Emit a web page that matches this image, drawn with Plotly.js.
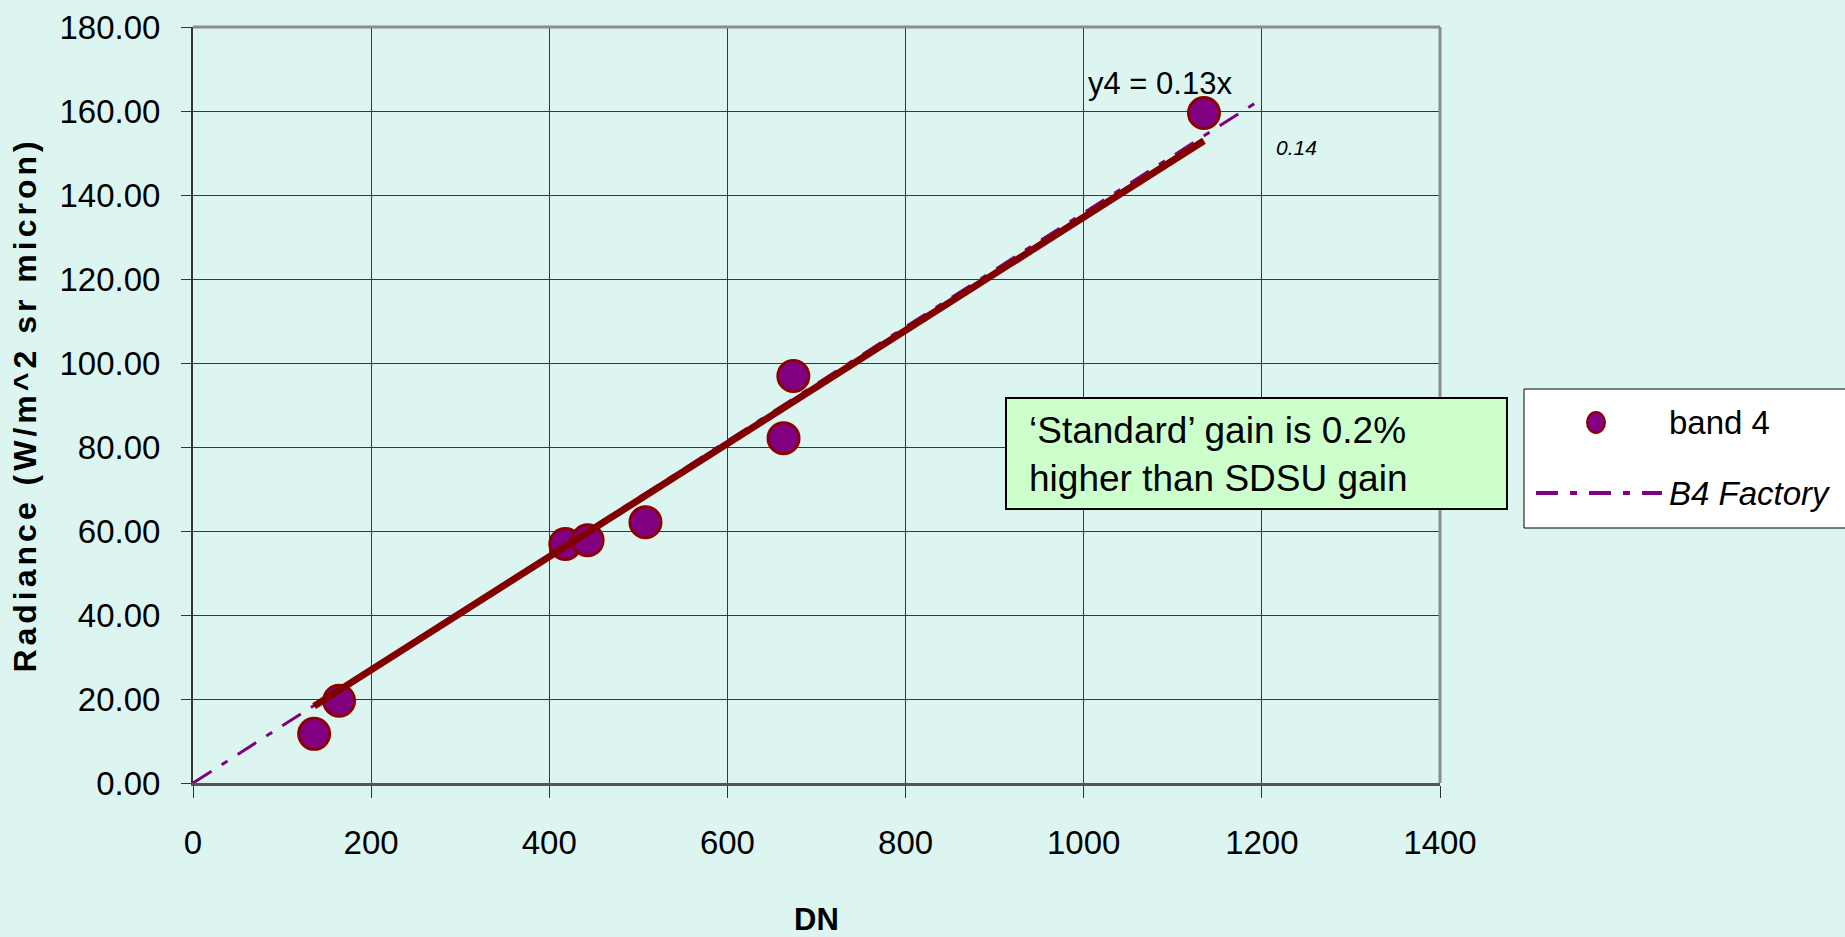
<!DOCTYPE html>
<html>
<head>
<meta charset="utf-8">
<script src="https://cdn.plot.ly/plotly-3.0.1.min.js"></script>
<style>
  html, body { margin: 0; padding: 0; background: #DDF5F0; }
  #chart { width: 1845px; height: 937px; }
  .g-ytitle text { letter-spacing: 4px; }
</style>
</head>
<body>
<div id="chart"></div>
<script>
// ---- data ----
const bandName = 'band 4';
const dnValues = [136, 164, 418, 443, 508, 663, 674, 1135];
const radianceValues = [11.7, 19.6, 56.9, 57.8, 62.1, 82.1, 96.9, 159.5];

const trendDN = [136, 1135];
const trendRadiance = [18.3, 152.9];

const factoryName = 'B4 Factory';
const factoryDN = [0, 1200];
const factoryRadiance = [0, 162.9];

const xTicks = [0, 200, 400, 600, 800, 1000, 1200, 1400];
const yTicks = [0, 20, 40, 60, 80, 100, 120, 140, 160, 180];

const equationText = 'y4 = 0.13x';
const factoryLabel = '0.14';
const noteLines = ['\u2018Standard\u2019 gain is 0.2%', 'higher than SDSU gain'];

// ---- styling ----
const BG = '#DDF5F0';
const FONT = 'Liberation Sans, Arial, sans-serif';
const PURPLE = '#800080';
const DARKRED = '#8B0000';
const DASH = '22px,12px,7px,12px';

// plot area in pixels (for placing the legend / note box in paper coordinates)
const PL = 193, PR = 1440, PT = 27, PB = 783;
const px = v => (v - PL) / (PR - PL);
const py = v => (PB - v) / (PB - PT);

const traces = [
  {
    x: factoryDN, y: factoryRadiance, type: 'scatter', mode: 'lines',
    name: factoryName, showlegend: false,
    line: { color: PURPLE, width: 3, dash: DASH },
    hoverinfo: 'skip'
  },
  {
    x: dnValues, y: radianceValues, type: 'scatter', mode: 'markers',
    name: bandName, showlegend: false,
    marker: { color: PURPLE, size: 31, line: { color: DARKRED, width: 3 } }
  },
  {
    x: trendDN, y: trendRadiance, type: 'scatter', mode: 'lines',
    showlegend: false,
    line: { color: '#800000', width: 7 },
    hoverinfo: 'skip'
  }
];

const layout = {
  width: 1845, height: 937,
  paper_bgcolor: BG, plot_bgcolor: BG,
  margin: { l: PL, r: 1845 - PR, t: PT, b: 937 - PB },
  showlegend: false,
  font: { family: FONT, color: '#000' },
  xaxis: {
    range: [0, 1400], tickvals: xTicks, ticktext: xTicks.map(String),
    showgrid: true, gridcolor: '#383838', gridwidth: 1,
    zeroline: false, showline: true, linecolor: '#555', linewidth: 3,
    ticks: 'outside', ticklen: 12, tickcolor: '#333', tickwidth: 1,
    ticklabelstandoff: 16,
    tickfont: { family: FONT, size: 33, color: '#000' },
    title: { text: '<b>DN</b>', font: { family: FONT, size: 31, color: '#000' }, standoff: 54 },
    fixedrange: true
  },
  yaxis: {
    range: [0, 180], tickvals: yTicks, tickformat: '.2f',
    showgrid: true, gridcolor: '#383838', gridwidth: 1,
    zeroline: false, showline: true, linecolor: '#333', linewidth: 2,
    ticks: 'outside', ticklen: 10, tickcolor: '#333', tickwidth: 1,
    ticklabelstandoff: 14,
    tickfont: { family: FONT, size: 33, color: '#000' },
    title: { text: '<b>Radiance (W/m^2 sr micron)</b>', font: { family: FONT, size: 32, color: '#000' }, standoff: 13 },
    fixedrange: true
  },
  shapes: [
    // top and right frame lines (gray)
    { type: 'line', xref: 'paper', yref: 'paper', x0: 0, x1: 1, y0: 1, y1: 1, line: { color: '#8c8c8c', width: 3 } },
    { type: 'line', xref: 'paper', yref: 'paper', x0: 1, x1: 1, y0: 0, y1: 1, line: { color: '#8c8c8c', width: 3 } },
    // note box
    { type: 'rect', xref: 'paper', yref: 'paper',
      x0: px(1006), x1: px(1507), y0: py(509), y1: py(398),
      fillcolor: '#CCFFCC', line: { color: '#000', width: 2 }, layer: 'above' },
    // legend box
    { type: 'rect', xref: 'paper', yref: 'paper',
      x0: px(1524), x1: px(1860), y0: py(528), y1: py(389),
      fillcolor: '#FFFFFF', line: { color: '#000', width: 1 }, layer: 'above' },
    // legend symbol: band 4 marker
    { type: 'circle', xref: 'paper', yref: 'paper',
      x0: px(1587), x1: px(1605), y0: py(433), y1: py(412),
      fillcolor: PURPLE, line: { color: DARKRED, width: 2 }, layer: 'above' },
    // legend symbol: factory line
    { type: 'line', xref: 'paper', yref: 'paper',
      x0: px(1536), x1: px(1662), y0: py(493), y1: py(493),
      line: { color: PURPLE, width: 4, dash: DASH }, layer: 'above' }
  ],
  annotations: [
    { x: 1086, y: 166.5, xref: 'x', yref: 'y', text: equationText, showarrow: false,
      font: { family: FONT, size: 31, color: '#000' } },
    { x: 1239, y: 151.3, xref: 'x', yref: 'y', text: '<i>' + factoryLabel + '</i>', showarrow: false,
      font: { family: FONT, size: 21, color: '#000' } },
    { x: px(1027), y: py(454), xref: 'paper', yref: 'paper',
      xanchor: 'left', yanchor: 'middle', align: 'left', showarrow: false,
      text: noteLines.join('<br>'),
      font: { family: FONT, size: 37, color: '#000' } },
    // legend labels
    { x: px(1667), y: py(422), xref: 'paper', yref: 'paper',
      xanchor: 'left', yanchor: 'middle', showarrow: false,
      text: bandName, font: { family: FONT, size: 33, color: '#000' } },
    { x: px(1667), y: py(493), xref: 'paper', yref: 'paper',
      xanchor: 'left', yanchor: 'middle', showarrow: false,
      text: '<i>' + factoryName + '</i>', font: { family: FONT, size: 33, color: '#000' } }
  ]
};

Plotly.newPlot('chart', traces, layout, { displayModeBar: false });
</script>
</body>
</html>
